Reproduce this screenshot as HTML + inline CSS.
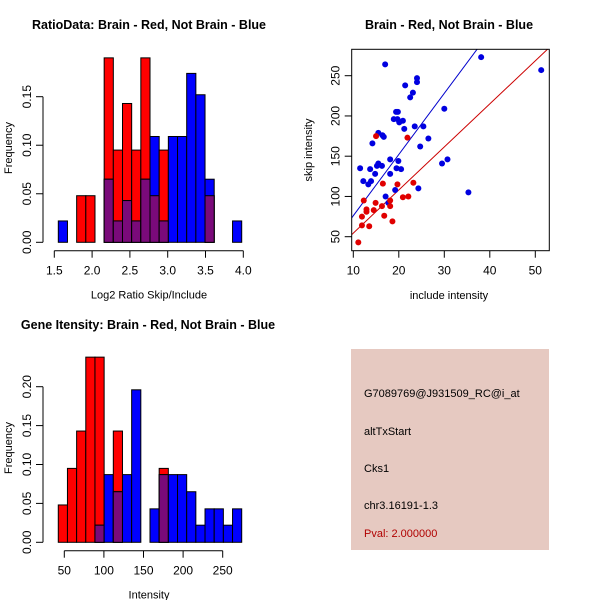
<!DOCTYPE html>
<html><head><meta charset="utf-8">
<style>
html,body{margin:0;padding:0;background:#fff;}
svg{display:block;font-family:"Liberation Sans",sans-serif;}
</style></head>
<body>
<svg id="chart" width="600" height="600" viewBox="0 0 600 600" xmlns="http://www.w3.org/2000/svg">
<rect x="0" y="0" width="600" height="600" fill="#fff"/>
<g id="p1"></g>
<g id="p2"></g>
<g id="p3"></g>
<g id="p4">
<rect x="351" y="349" width="198" height="201" fill="#e6c9c1"/>
<text x="364" y="397" font-size="11" fill="#000">G7089769@J931509_RC@i_at</text>
<text x="364" y="435" font-size="11" fill="#000">altTxStart</text>
<text x="364" y="472" font-size="11" fill="#000">Cks1</text>
<text x="364" y="509" font-size="11" fill="#000">chr3.16191-1.3</text>
<text x="364" y="537" font-size="11" fill="#b00000">Pval: 2.000000</text>
</g>
</svg>
<script>
// ---- Ratio histogram data (20 bins) ----
const ratioBinStart = 1.553;
const ratioBinWidth = 0.1213;
const ratioRed  = [0,0,0.048,0.048,0,0.190,0.095,0.143,0.095,0.190,0.048,0.095,0,0,0,0,0.048,0,0,0];
const ratioBlue = [0.022,0,0,0,0,0.065,0.022,0.043,0.022,0.065,0.109,0.022,0.109,0.109,0.174,0.152,0.065,0,0,0.022];
const ratioXTicks = [1.5,2.0,2.5,3.0,3.5,4.0];
const ratioYTicks = [0,0.05,0.10,0.15];
// ---- Gene intensity histogram data ----
const intBinStart = 42.4;
const intBinWidth = 11.58;
const intRed  = [0.048,0.095,0.143,0.238,0.238,0,0.143,0,0,0,0,0.095,0,0,0,0,0,0,0,0];
const intBlue = [0,0,0,0,0.022,0.087,0.065,0.087,0.196,0,0.043,0.087,0.087,0.087,0.065,0.022,0.043,0.043,0.022,0.043];
const intXTicks = [50,100,150,200,250];
const intYTicks = [0,0.05,0.10,0.15,0.20];
// ---- Scatter data ----
const blueInclude = [11.5,12.2,13.3,13.7,13.9,14.2,14.8,15.2,15.5,15.5,16.3,16.4,16.7,17.0,17.1,17.7,18.1,18.1,18.9,19.4,19.5,19.7,19.8,19.9,20.1,20.5,20.9,21.2,21.4,19.2,22.5,23.1,23.5,24.0,24.0,24.3,24.7,25.4,26.5,29.5,30.0,30.7,35.3,38.1,51.3];
const blueSkip    = [135,119,115,134,119,166,128,138,141,179,138,176,174,264,100,92,128,146,196,205,135,196,205,144,192,134,194,184,238,108,223,229,187,247,242,110,162,187,172,141,209,146,105,273,257];
const redInclude = [11.1,11.9,11.9,12.3,12.9,12.9,13.5,14.5,14.9,15.0,16.3,16.5,16.8,18.1,18.1,18.6,19.7,20.9,21.9,22.1,23.2];
const redSkip    = [43,75,64,95,84,81,63,83,92,175,88,116,76,88,95,69,115,99,173,100,117];
const blueFit = [0.1,7.6];   // intercept, slope
const redFit  = [1.0,5.35];
const scatterXTicks = [10,20,30,40,50];
const scatterYTicks = [50,100,150,200,250];

const NS = "http://www.w3.org/2000/svg";
function mk(parent, tag, attrs, text){
  const e = document.createElementNS(NS, tag);
  for (const k in attrs) e.setAttribute(k, attrs[k]);
  if (text !== undefined) e.textContent = text;
  parent.appendChild(e);
  return e;
}
const PURPLE = "#7a0a7a";

function histogram(g, cfg){
  const {x, y, start, width, red, blue, xTicks, yTicks, yAxisX, xAxisY, title, xTitle, yFmt} = cfg;
  const n = red.length;
  for (let i=0;i<n;i++){
    const x0 = x(start + i*width), x1 = x(start + (i+1)*width);
    const r = red[i], b = blue[i];
    if (r>0){
      const el = mk(g,'rect',{x:x0,y:y(r),width:x1-x0,height:y(0)-y(r),fill:'#ff0000',stroke:'#000','stroke-width':1});
      
      
    }
    if (b>0){
      const el = mk(g,'rect',{x:x0,y:y(b),width:x1-x0,height:y(0)-y(b),fill:'#0000ff',stroke:'#000','stroke-width':1});
      
      
    }
    const m = Math.min(r,b);
    if (m>0){
      const el = mk(g,'rect',{x:x0,y:y(m),width:x1-x0,height:y(0)-y(m),fill:PURPLE,stroke:'#000','stroke-width':1});
      
      
    }
  }
  const xa = mk(g,'g',{});
  
  
  mk(xa,'line',{x1:x(xTicks[0]),x2:x(xTicks[xTicks.length-1]),y1:xAxisY,y2:xAxisY,stroke:'#000'});
  xTicks.forEach(t=>{
    mk(xa,'line',{x1:x(t),x2:x(t),y1:xAxisY,y2:xAxisY+7,stroke:'#000'});
    const tl = mk(xa,'text',{x:x(t),y:xAxisY+24,'font-size':12,'text-anchor':'middle'}, cfg.xFmt(t));
    
    
  });
  const ya = mk(g,'g',{});
  
  
  mk(ya,'line',{x1:yAxisX,x2:yAxisX,y1:y(yTicks[0]),y2:y(yTicks[yTicks.length-1]),stroke:'#000'});
  yTicks.forEach(t=>{
    mk(ya,'line',{x1:yAxisX-7,x2:yAxisX,y1:y(t),y2:y(t),stroke:'#000'});
    const tl = mk(ya,'text',{x:0,y:0,'font-size':12,'text-anchor':'middle',transform:`translate(${yAxisX-12},${y(t)}) rotate(-90)`}, yFmt(t));
    
    
  });
  const yt = mk(g,'text',{x:0,y:0,'font-size':11,'text-anchor':'middle',transform:`translate(12,${cfg.yTitleY}) rotate(-90)`},'Frequency');
  
  
  const xt = mk(g,'text',{x:cfg.xTitleX,y:xAxisY+48,'font-size':11,'text-anchor':'middle'},xTitle);
  
  
  const tt = mk(g,'text',{x:cfg.titleX,y:cfg.titleY,'font-size':12.5,'font-weight':'bold','text-anchor':'middle'},title);
  
  
}

histogram(document.getElementById('p1'),{
  x: v => 54.3 + (v-1.5)*75.6,
  y: v => 242.3 - v*970.7,
  start: ratioBinStart, width: ratioBinWidth, red: ratioRed, blue: ratioBlue,
  xTicks: ratioXTicks, yTicks: ratioYTicks, yAxisX: 43, xAxisY: 250.7,
  xFmt: t=>t.toFixed(1), yFmt: t=>t.toFixed(2),
  title: 'RatioData: Brain - Red, Not Brain - Blue', titleX: 149, titleY: 29,
  xTitle: 'Log2 Ratio Skip/Include', xTitleX: 149, yTitleY: 148
});
histogram(document.getElementById('p3'),{
  x: v => 64.3 + (v-50)*0.792,
  y: v => 542.3 - v*778,
  start: intBinStart, width: intBinWidth, red: intRed, blue: intBlue,
  xTicks: intXTicks, yTicks: intYTicks, yAxisX: 43, xAxisY: 550.7,
  xFmt: t=>String(t), yFmt: t=>t.toFixed(2),
  title: 'Gene Itensity: Brain - Red, Not Brain - Blue', titleX: 148, titleY: 329,
  xTitle: 'Intensity', xTitleX: 149, yTitleY: 448
});

(function(){
  const g = document.getElementById('p2');
  const L=351.7,R=549.3,T=49.3,B=250.7;
  const x = v => 353.3 + (v-10)*4.55;
  const y = v => 236.7 - (v-50)*0.805;
  const defs = mk(g,'defs',{});
  const cp = mk(defs,'clipPath',{id:'clipS'});
  mk(cp,'rect',{x:L,y:T,width:R-L,height:B-T});
  const vMin = 9.5, vMax = 53;
  const bl = mk(g,'line',{x1:x(vMin),y1:y(blueFit[0]+blueFit[1]*vMin),x2:x(vMax),y2:y(blueFit[0]+blueFit[1]*vMax),stroke:'#0000cc','stroke-width':1,'clip-path':'url(#clipS)'});
  
  
  const rl = mk(g,'line',{x1:x(vMin),y1:y(redFit[0]+redFit[1]*vMin),x2:x(vMax),y2:y(redFit[0]+redFit[1]*vMax),stroke:'#cc0000','stroke-width':1,'clip-path':'url(#clipS)'});
  
  
  blueInclude.forEach((v,i)=>{
    const c = mk(g,'circle',{cx:x(v),cy:y(blueSkip[i]),r:3,fill:'#0000e0'});
    
    
  });
  redInclude.forEach((v,i)=>{
    const c = mk(g,'circle',{cx:x(v),cy:y(redSkip[i]),r:3,fill:'#e00000'});
    
    
  });
  const box = mk(g,'rect',{x:L,y:T,width:R-L,height:B-T,fill:'none',stroke:'#000'});
  
  
  scatterXTicks.forEach(t=>{
    mk(g,'line',{x1:x(t),x2:x(t),y1:B,y2:B+7,stroke:'#000'});
    const tl = mk(g,'text',{x:x(t),y:B+24,'font-size':12,'text-anchor':'middle'},String(t));
    
    
  });
  scatterYTicks.forEach(t=>{
    mk(g,'line',{x1:L-7,x2:L,y1:y(t),y2:y(t),stroke:'#000'});
    const tl = mk(g,'text',{x:0,y:0,'font-size':12,'text-anchor':'middle',transform:`translate(${L-12},${y(t)}) rotate(-90)`},String(t));
    
    
  });
  const xt = mk(g,'text',{x:449,y:299,'font-size':11,'text-anchor':'middle'},'include intensity');
  
  
  const yt = mk(g,'text',{x:0,y:0,'font-size':11,'text-anchor':'middle',transform:'translate(312,150) rotate(-90)'},'skip intensity');
  
  
  const tt = mk(g,'text',{x:449,y:29,'font-size':12.5,'font-weight':'bold','text-anchor':'middle'},'Brain - Red, Not Brain - Blue');
  
  
})();
</script>
</body></html>
